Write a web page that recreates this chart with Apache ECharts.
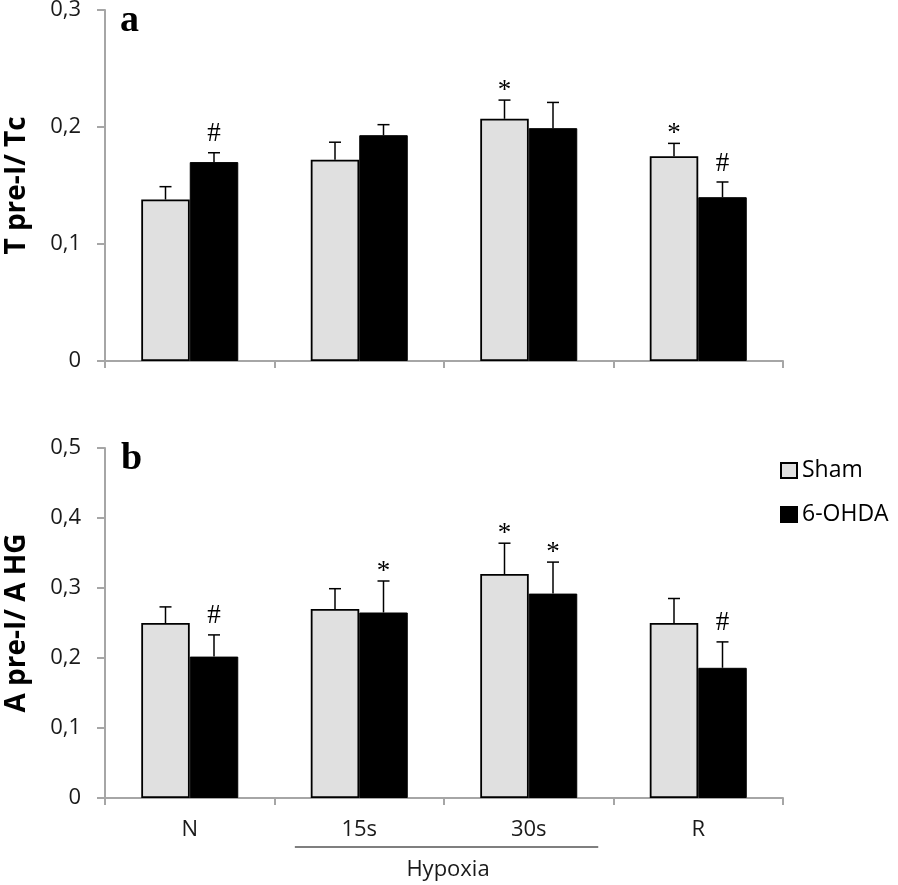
<!DOCTYPE html>
<html>
<head>
<meta charset="utf-8">
<style>html,body{margin:0;padding:0;background:#fff}#c{width:898px;height:885px}</style>
<script src="https://cdn.jsdelivr.net/npm/echarts@6/dist/echarts.min.js"></script>
</head>
<body>
<div id="c"></div>
<script>
var categories = ['N', '15s', '30s', 'R'];
var yTicksA = [0, 0.1, 0.2, 0.3];
var yTicksB = [0, 0.1, 0.2, 0.3, 0.4, 0.5];

var shamA = [0.138, 0.172, 0.207, 0.175];
var shamA_sem = [0.011, 0.015, 0.016, 0.011];
var ohdaA = [0.170, 0.193, 0.199, 0.140];
var ohdaA_sem = [0.008, 0.009, 0.022, 0.013];
var shamA_sig = ['', '', '*', '*'];
var ohdaA_sig = ['#', '', '', '#'];

var shamB = [0.250, 0.270, 0.320, 0.250];
var shamB_sem = [0.023, 0.029, 0.044, 0.035];
var ohdaB = [0.202, 0.265, 0.292, 0.186];
var ohdaB_sem = [0.031, 0.045, 0.045, 0.037];
var shamB_sig = ['', '', '*', ''];
var ohdaB_sig = ['#', '*', '*', '#'];

var seriesNames = ['Sham', '6-OHDA'];
var yNameA = 'T pre-I/ Tc';
var yNameB = 'A pre-I/ A HG';
var groupLabel = 'Hypoxia';

var chart = echarts.init(document.getElementById('c'), null, {renderer: 'canvas'});
var BAR_W = 48.5;
var AXIS_GRAY = '#a6a6a6';
var LABEL_FONT = 'Open Sans';

function fmt(v) { return v === 0 ? '0' : v.toFixed(1).replace('.', ','); }

function errData(means, sems) {
  return means.map(function (m, i) { return [i, m, m + sems[i]]; });
}

function errRender(side, sigs) {
  return function (params, api) {
    var i = api.value(0);
    var base = api.coord([i, api.value(1)]);
    var top = api.coord([i, api.value(2)]);
    var x = base[0] + side * BAR_W / 2;
    var sig = sigs[params.dataIndex];
    var children = [
      {type: 'line', shape: {x1: x, y1: base[1], x2: x, y2: top[1]}, style: {stroke: '#000', lineWidth: 1.5}},
      {type: 'line', shape: {x1: x - 6, y1: top[1], x2: x + 6, y2: top[1]}, style: {stroke: '#000', lineWidth: 1.5}}
    ];
    if (sig) {
      var yb = sig === '#' ? top[1] - 5 : top[1] + 4;
      children.push({
        type: 'text',
        style: {
          text: sig, x: x, y: yb,
          align: 'center', verticalAlign: 'bottom',
          font: '27px "Liberation Serif", "Times New Roman", serif', fill: '#000'
        }
      });
    }
    return {type: 'group', children: children};
  };
}

function yAxis(gi, ticks, name) {
  return {
    type: 'value', gridIndex: gi, min: 0, max: ticks[ticks.length - 1], interval: 0.1,
    name: name, nameLocation: 'middle', nameGap: 74, nameRotate: 90,
    nameTextStyle: {fontFamily: LABEL_FONT, fontWeight: 'bold', fontSize: 28, color: '#000'},
    axisLine: {show: true, lineStyle: {color: AXIS_GRAY, width: 2}},
    axisTick: {show: true, length: 8, lineStyle: {color: AXIS_GRAY, width: 2}},
    splitLine: {show: false},
    axisLabel: {formatter: fmt, margin: 24, fontFamily: LABEL_FONT, fontSize: 22, color: '#1a1a1a'}
  };
}

function xAxis(gi, showLabel) {
  return {
    type: 'category', gridIndex: gi, data: categories,
    axisLine: {show: true, lineStyle: {color: AXIS_GRAY, width: 2}},
    axisTick: {show: true, length: 7, lineStyle: {color: AXIS_GRAY, width: 2}},
    axisLabel: {show: showLabel, margin: 21, fontFamily: LABEL_FONT, fontSize: 22, color: '#1a1a1a'}
  };
}

function bars(gi, name, data) {
  var sham = name === seriesNames[0];
  return {
    type: 'bar', name: name, xAxisIndex: gi, yAxisIndex: gi, data: data,
    barWidth: BAR_W, barGap: '0%',
    itemStyle: sham ? {color: '#e0e0e0', borderColor: '#000', borderWidth: 1.8} : {color: '#000', borderColor: '#000', borderWidth: 1},
    emphasis: {disabled: true}
  };
}

function errs(gi, side, means, sems, sigs) {
  return {
    type: 'custom', xAxisIndex: gi, yAxisIndex: gi, z: 5,
    renderItem: errRender(side, sigs), data: errData(means, sems),
    silent: true, tooltip: {show: false}
  };
}

var option = {
  animation: false,
  backgroundColor: '#fff',
  grid: [
    {left: 105, right: 115, top: 10, height: 351, outerBoundsMode: 'none', containLabel: false},
    {left: 105, right: 115, top: 448, height: 350, outerBoundsMode: 'none', containLabel: false}
  ],
  title: [
    {text: 'a', left: 120, top: 2, padding: 0, textStyle: {fontFamily: 'Liberation Serif', fontWeight: 'bold', fontSize: 38, color: '#000'}},
    {text: 'b', left: 121, top: 440, padding: 0, textStyle: {fontFamily: 'Liberation Serif', fontWeight: 'bold', fontSize: 38, color: '#000'}}
  ],
  legend: {
    data: seriesNames, orient: 'vertical', left: 775, top: 454,
    itemWidth: 16, itemHeight: 15, itemGap: 21, icon: 'rect',
    textStyle: {fontFamily: LABEL_FONT, fontSize: 23, color: '#000'},
    selectedMode: false
  },
  xAxis: [xAxis(0, false), xAxis(1, true)],
  yAxis: [yAxis(0, yTicksA, yNameA), yAxis(1, yTicksB, yNameB)],
  series: [
    bars(0, seriesNames[0], shamA), bars(0, seriesNames[1], ohdaA),
    errs(0, -1, shamA, shamA_sem, shamA_sig), errs(0, 1, ohdaA, ohdaA_sem, ohdaA_sig),
    bars(1, seriesNames[0], shamB), bars(1, seriesNames[1], ohdaB),
    errs(1, -1, shamB, shamB_sem, shamB_sig), errs(1, 1, ohdaB, ohdaB_sem, ohdaB_sig)
  ]
};
chart.setOption(option);

// Hypoxia bracket under the 15s and 30s categories
var x15 = chart.convertToPixel({xAxisIndex: 1}, categories[1]);
var x30 = chart.convertToPixel({xAxisIndex: 1}, categories[2]);
var yBase = chart.convertToPixel({yAxisIndex: 1}, 0);
var w = x30 - x15;
chart.setOption({
  graphic: [
    {type: 'line', shape: {x1: x15 - 0.38 * w, y1: yBase + 49, x2: x30 + 0.41 * w, y2: yBase + 49}, style: {stroke: '#000', lineWidth: 1.2}},
    {type: 'text', style: {text: groupLabel, x: (x15 + x30) / 2 + 4, y: yBase + 72, align: 'center', verticalAlign: 'middle', font: '22px "Open Sans"', fill: '#1a1a1a'}}
  ]
});
</script>
</body>
</html>
